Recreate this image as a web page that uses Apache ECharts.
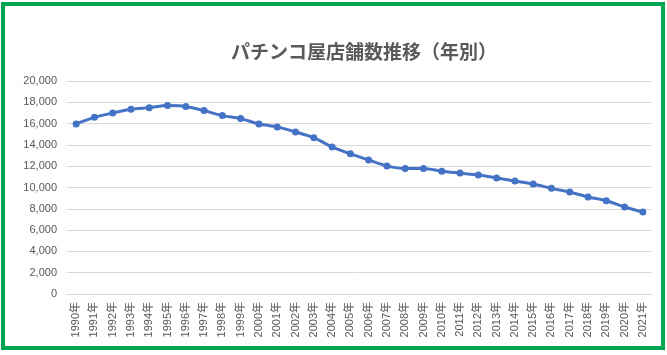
<!DOCTYPE html>
<html>
<head>
<meta charset="utf-8">
<script src="https://cdn.jsdelivr.net/npm/echarts@6/dist/echarts.min.js"></script>
<style>
html,body{margin:0;padding:0;background:#fff;}
#wrap{position:absolute;left:1px;top:2px;width:656px;height:340px;border:4px solid #00A650;}
#chart{position:absolute;left:0;top:0;width:667px;height:355px;}
</style>
</head>
<body>
<div id="wrap"></div>
<div id="chart"></div>
<script>
const titleText = 'パチンコ屋店舗数推移（年別）';
const years = ['1990年','1991年','1992年','1993年','1994年','1995年','1996年','1997年','1998年','1999年',
  '2000年','2001年','2002年','2003年','2004年','2005年','2006年','2007年','2008年','2009年',
  '2010年','2011年','2012年','2013年','2014年','2015年','2016年','2017年','2018年','2019年',
  '2020年','2021年'];
const storeCounts = [15970, 16590, 17000, 17340, 17500, 17690, 17600, 17220, 16750, 16470,
  15970, 15690, 15220, 14680, 13810, 13160, 12590, 12030, 11780, 11780,
  11530, 11350, 11170, 10900, 10610, 10330, 9920, 9580, 9110, 8760,
  8170, 7700];
const yMin = 0, yMax = 20000, yStep = 2000;

const chart = echarts.init(document.getElementById('chart'), null, {renderer: 'canvas'});
const gray = '#595959';
chart.setOption({
  animation: false,
  title: {
    text: titleText,
    left: 226,
    top: 37,
    textStyle: {fontFamily: '"Noto Sans CJK JP", sans-serif', fontSize: 19, fontWeight: 'bold', color: gray}
  },
  grid: {left: 67, right: 15, top: 81, bottom: 61, containLabel: false},
  xAxis: {
    type: 'category',
    data: years,
    boundaryGap: true,
    axisLine: {show: true, lineStyle: {color: '#D9D9D9', width: 1}},
    axisTick: {show: false},
    axisLabel: {rotate: 90, margin: 8, fontSize: 11, color: gray, interval: 0,
      fontFamily: '"Liberation Sans", "Noto Sans CJK JP", sans-serif'}
  },
  yAxis: {
    type: 'value',
    min: yMin, max: yMax, interval: yStep,
    axisLine: {show: false},
    axisTick: {show: false},
    splitLine: {lineStyle: {color: '#D9D9D9', width: 1}},
    axisLabel: {margin: 10, fontSize: 11, color: gray,
      fontFamily: '"Liberation Sans", sans-serif',
      formatter: v => v.toLocaleString('en-US')}
  },
  series: [{
    type: 'line',
    data: storeCounts,
    smooth: 0.3,
    symbol: 'circle',
    symbolSize: 7,
    lineStyle: {color: '#4472C4', width: 3},
    itemStyle: {color: '#4472C4'}
  }]
});
</script>
</body>
</html>
